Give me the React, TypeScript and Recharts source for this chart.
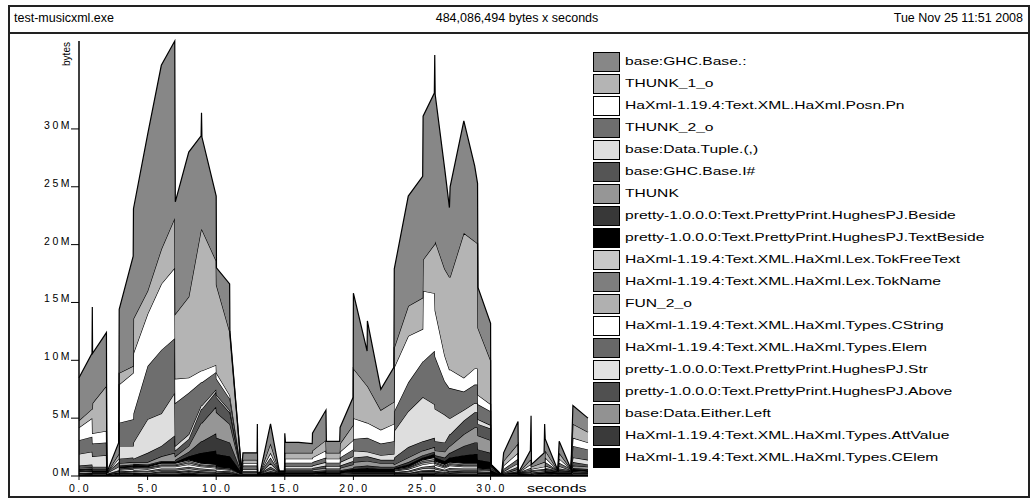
import React from "react";
import { AreaChart, Area, XAxis, YAxis } from "recharts";

// sample times (seconds)
const times = [
  0, 0.95, 0.97, 0.99, 2.0, 2.03, 2.9, 2.93, 3.95, 3.97,
  5.0, 6.0, 6.98, 7.02, 8.0, 8.9, 8.93, 8.96, 10.0, 10.02,
  10.98, 11.0, 11.85, 11.95, 12.98, 13.0, 13.02, 13.2, 13.96, 14.6,
  14.98, 15.0, 15.05, 16.0, 17.0, 17.02, 18.0, 18.03, 19.0, 19.03,
  19.98, 20.0, 21.0, 21.02, 22.0, 22.95, 22.98, 24.0, 25.05, 25.08,
  25.9, 25.93, 25.96, 26.66, 27.0, 27.05, 28.05, 28.84, 29.05, 29.08,
  30.0, 30.02, 30.8, 30.95, 32.0, 32.03, 32.9, 32.95, 32.98, 33.9,
  33.94, 33.98, 34.9, 35.0, 35.86, 36.0, 37.1,
];

// values in MB, one list per band
const ghcBaseCons = [
  3.7, 4.8, 8.8, 4.3, 4.6, 0, 1.0, 5.5, 9.5, 9.5,
  13.5, 15.9, 15.3, 9.7, 12.5, 8.1, 10.1, 8.0, 5.6, 1.5,
  4.1, 0.3, 0, 0.6, 0.6, 3.1, 0, 0, 1.7, 0,
  0, 1.7, 0.9, 0.9, 0.8, 1.5, 2.6, 1.0, 1.0, 1.4,
  2.4, 6.5, 3.0, 5.6, 1.8, 3.0, 6.8, 9.5, 10.5, 12.4,
  13.1, 16.4, 12.7, 8.6, 6.0, 7.8, 9.7, 6.5, 5.2, 3.5,
  3.2, 0, 0, 0.7, 1.9, 0, 0.8, 3.8, 0.2, 0.8,
  3.3, 1.0, 0, 1.0, 0, 1.6, 1.2,
];
const thunk1 = [
  0.6, 0.8, 0.8, 2.6, 3.9, 0, 0.4, 1.0, 0.6, 3.0,
  2.0, 3.0, 4.3, 5.6, 7.0, 12.2, 12.2, 12.2, 9.0, 7.6,
  5.5, 5.2, 0, 0.3, 0.3, 0.3, 0, 0, 0.8, 0,
  0, 0.5, 0.5, 0.5, 0.5, 0.6, 0.9, 0.5, 0.5, 0.7,
  1.3, 4.3, 3.2, 3.2, 1.7, 1.9, 1.7, 2.6, 2.7, 2.7,
  4.2, 4.2, 6.0, 7.5, 8.0, 8.0, 12.5, 11.0, 10.8, 5.8,
  3.8, 0, 0, 0.4, 0.8, 0, 0.4, 0.4, 0.2, 0.4,
  0.4, 0.6, 0, 0.5, 0, 1.2, 0.9,
];
const posnPn = [
  1.1, 1.6, 1.6, 0.9, 1.0, 0, 0.3, 3.3, 4.0, 5.2,
  4.5, 5.7, 6.1, 2.1, 1.3, 1.0, 1.0, 1.0, 0.6, 0.5,
  0.3, 0.3, 0, 0.2, 0.2, 0.2, 0, 0, 0.4, 0,
  0, 0.35, 0.35, 0.35, 0.35, 0.4, 0.6, 0.35, 0.35, 0.5,
  0.8, 1.8, 1.3, 1.3, 1.2, 1.5, 3.8, 4.0, 2.8, 6.1,
  5.0, 5.0, 4.0, 2.2, 1.6, 1.6, 1.2, 1.4, 1.4, 0.8,
  0.6, 0, 0, 0.3, 0.5, 0, 0.3, 0.3, 0.1, 0.2,
  0.2, 0.4, 0, 0.35, 0, 0.7, 0.6,
];
const thunk2 = [
  1.2, 1.3, 1.3, 1.1, 1.1, 0.05, 0.4, 2.0, 2.3, 2.5,
  4.6, 5.5, 4.7, 3.7, 3.6, 2.0, 2.0, 2.0, 1.5, 1.4,
  1.0, 1.0, 0, 0.3, 0.3, 0.3, 0, 0.05, 0.5, 0.05,
  0.05, 0.3, 0.3, 0.3, 0.3, 0.3, 0.4, 0.3, 0.3, 0.4,
  0.6, 1.0, 1.2, 1.2, 1.0, 1.1, 1.7, 2.5, 3.1, 3.1,
  4.6, 4.6, 4.5, 2.9, 2.6, 2.6, 1.6, 1.6, 1.6, 1.3,
  1.2, 0.1, 0, 0.2, 0.4, 0, 0.2, 0.2, 0.1, 0.1,
  0.1, 0.3, 0, 0.3, 0.1, 1.0, 0.9,
];
const tuple = [
  1.0, 1.1, 1.1, 0.9, 1.0, 0.05, 0.3, 1.1, 1.0, 1.4,
  2.9, 2.8, 3.7, 0.4, 0.4, 0.3, 0.3, 0.3, 0.2, 0.2,
  0.2, 0.2, 0, 0.2, 0.2, 0.2, 0, 0, 0.3, 0,
  0, 0.2, 0.2, 0.2, 0.2, 0.2, 0.3, 0.2, 0.2, 0.3,
  0.4, 0.6, 0.4, 0.4, 0.4, 0.5, 2.3, 3.1, 3.8, 3.8,
  2.9, 2.9, 2.8, 2.4, 1.4, 1.4, 0.9, 0.8, 0.8, 0.4,
  0.3, 0, 0, 0.1, 0.3, 0, 0.1, 0.1, 0.1, 0.1,
  0.1, 0.2, 0, 0.2, 0, 0.4, 0.4,
];
const intHash = [
  0.2, 0.25, 0.25, 0.2, 0.2, 0.05, 0.1, 0.4, 0.4, 0.3,
  0.8, 0.9, 1.5, 0.5, 0.6, 1.2, 1.2, 1.2, 1.3, 1.3,
  1.0, 1.0, 0.05, 0.1, 0.1, 0.1, 0, 0.05, 0.2, 0.05,
  0.05, 0.15, 0.15, 0.15, 0.15, 0.15, 0.2, 0.15, 0.15, 0.2,
  0.3, 0.4, 0.4, 0.4, 0.3, 0.3, 0.6, 0.9, 0.8, 0.8,
  0.8, 0.8, 0.8, 0.8, 1.0, 1.0, 1.2, 1.3, 1.3, 1.0,
  1.0, 0.1, 0, 0.1, 0.2, 0.05, 0.1, 0.1, 0.1, 0.1,
  0.1, 0.1, 0.1, 0.15, 0.1, 0.3, 0.2,
];
const thunk = [
  0.1, 0.1, 0.1, 0.1, 0.1, 0, 0.1, 0.2, 0.2, 0.15,
  0.2, 0.4, 0.7, 0.3, 0.5, 1.6, 1.6, 1.6, 2.3, 2.2,
  1.6, 1.6, 0, 0.1, 0.1, 0.1, 0, 0, 0.2, 0,
  0, 0.1, 0.1, 0.1, 0.1, 0.15, 0.2, 0.1, 0.1, 0.2,
  0.3, 0.4, 0.4, 0.4, 0.3, 0.3, 0.2, 0.4, 0.4, 0.4,
  0.4, 0.4, 0.4, 0.5, 0.6, 0.6, 1.0, 1.3, 1.3, 1.2,
  1.1, 0.1, 0, 0, 0.2, 0, 0.1, 0.1, 0, 0,
  0, 0.1, 0, 0.1, 0, 0.2, 0.2,
];
const beside = [
  0.05, 0.05, 0.05, 0.05, 0.05, 0, 0, 0.1, 0.1, 0.1,
  0.1, 0.1, 0.1, 0.2, 0.4, 1.0, 1.0, 1.0, 1.5, 1.4,
  1.2, 1.2, 0.05, 0, 0, 0, 0, 0, 0.1, 0.05,
  0.05, 0.1, 0.1, 0.1, 0.1, 0.1, 0.1, 0.1, 0.1, 0.1,
  0.1, 0.2, 0.2, 0.2, 0.2, 0.2, 0.1, 0.2, 0.2, 0.2,
  0.2, 0.2, 0.2, 0.3, 0.4, 0.4, 0.8, 1.0, 1.0, 0.9,
  0.8, 0.2, 0, 0, 0.1, 0, 0, 0, 0, 0,
  0, 0.1, 0.1, 0.1, 0.1, 0.1, 0.1,
];
const textBeside = [
  0.05, 0.05, 0.05, 0.05, 0.05, 0, 0, 0.1, 0.1, 0.1,
  0.1, 0.1, 0.1, 0.1, 0.3, 0.9, 0.9, 0.9, 1.2, 1.1,
  1.0, 1.0, 0.1, 0, 0, 0, 0.05, 0.05, 0.1, 0.1,
  0.1, 0.1, 0.1, 0.1, 0.1, 0.1, 0.1, 0.1, 0.1, 0.1,
  0.2, 0.2, 0.3, 0.3, 0.2, 0.2, 0.1, 0.2, 0.2, 0.2,
  0.3, 0.3, 0.3, 0.3, 0.4, 0.4, 0.7, 0.8, 0.8, 0.7,
  0.6, 0.3, 0.05, 0, 0.1, 0.1, 0, 0, 0, 0,
  0, 0.1, 0.1, 0.1, 0.1, 0.1, 0.1,
];
const tokFreeText = [
  0.05, 0.05, 0.05, 0.05, 0.05, 0, 0, 0.05, 0.05, 0.05,
  0.05, 0.1, 0.1, 0.1, 0.1, 0.1, 0.1, 0.1, 0.1, 0.05,
  0.05, 0.05, 0, 0, 0, 0, 0, 0, 0, 0,
  0, 0, 0, 0, 0, 0, 0, 0, 0, 0,
  0.05, 0.05, 0.05, 0.05, 0.05, 0.05, 0.05, 0.05, 0.1, 0.1,
  0.15, 0.15, 0.1, 0.1, 0.1, 0.1, 0.1, 0.1, 0.1, 0.05,
  0.05, 0, 0, 0, 0, 0, 0, 0, 0, 0,
  0, 0, 0, 0, 0, 0.05, 0.05,
];
const tokName = [
  0.05, 0.05, 0.05, 0, 0, 0, 0, 0.05, 0.05, 0.05,
  0.05, 0.1, 0.1, 0.1, 0.15, 0.1, 0.1, 0.1, 0.1, 0.05,
  0.05, 0.05, 0, 0, 0, 0, 0, 0, 0, 0,
  0, 0, 0, 0, 0, 0, 0, 0, 0, 0,
  0, 0, 0, 0, 0, 0, 0.05, 0.05, 0.15, 0.15,
  0.15, 0.15, 0.1, 0.1, 0.1, 0.1, 0.1, 0.1, 0.1, 0.05,
  0.05, 0, 0, 0, 0, 0, 0, 0, 0, 0,
  0, 0, 0, 0, 0, 0.05, 0,
];
const fun2 = [
  0.05, 0.05, 0.05, 0.05, 0.05, 0, 0.05, 0.1, 0.1, 0.1,
  0.1, 0.1, 0.1, 0.1, 0.15, 0.1, 0.1, 0.1, 0.1, 0.1,
  0.1, 0.1, 0, 0, 0, 0, 0, 0, 0, 0,
  0, 0, 0, 0, 0, 0, 0.05, 0, 0, 0.05,
  0.05, 0.05, 0.05, 0.05, 0.05, 0.05, 0.05, 0.1, 0.15, 0.15,
  0.15, 0.15, 0.15, 0.1, 0.1, 0.1, 0.1, 0.1, 0.1, 0.1,
  0.05, 0, 0, 0, 0, 0, 0, 0, 0, 0.05,
  0.05, 0.05, 0, 0, 0, 0.05, 0.05,
];
const cString = [
  0.1, 0.1, 0.1, 0.05, 0.05, 0.05, 0.05, 0.1, 0.15, 0.15,
  0.15, 0.15, 0.15, 0.15, 0.2, 0.15, 0.15, 0.15, 0.15, 0.15,
  0.1, 0.1, 0.05, 0.05, 0.05, 0.05, 0.05, 0.05, 0.05, 0.05,
  0.05, 0.05, 0.05, 0.05, 0.05, 0.05, 0.05, 0.05, 0.05, 0.05,
  0.05, 0.05, 0.05, 0.05, 0.05, 0.05, 0.1, 0.15, 0.2, 0.2,
  0.25, 0.25, 0.2, 0.15, 0.2, 0.2, 0.15, 0.15, 0.15, 0.1,
  0.1, 0.05, 0, 0.05, 0.05, 0.05, 0.05, 0.05, 0.05, 0.05,
  0.05, 0.05, 0.05, 0.05, 0.05, 0.1, 0.05,
];
const elem = [
  0.05, 0.05, 0.05, 0.05, 0.05, 0, 0.05, 0.1, 0.1, 0.1,
  0.1, 0.15, 0.15, 0.15, 0.15, 0.15, 0.15, 0.15, 0.1, 0.1,
  0.1, 0.1, 0.05, 0.05, 0.05, 0.05, 0, 0, 0.05, 0,
  0, 0.05, 0.05, 0.05, 0.05, 0.05, 0.05, 0.05, 0.05, 0.05,
  0.05, 0.05, 0.05, 0.05, 0.05, 0.05, 0.05, 0.1, 0.15, 0.15,
  0.2, 0.2, 0.15, 0.1, 0.15, 0.15, 0.15, 0.15, 0.15, 0.1,
  0.05, 0.05, 0, 0.05, 0.05, 0, 0.05, 0.05, 0.05, 0.05,
  0.05, 0.05, 0.05, 0.05, 0.05, 0.05, 0.05,
];
const str = [
  0.05, 0.05, 0.05, 0.05, 0.05, 0, 0.05, 0.05, 0.1, 0.1,
  0.1, 0.1, 0.1, 0.1, 0.15, 0.1, 0.1, 0.1, 0.1, 0.1,
  0.05, 0.05, 0, 0, 0, 0, 0, 0, 0, 0,
  0, 0, 0, 0, 0, 0, 0.05, 0, 0, 0.05,
  0.05, 0.05, 0.05, 0.05, 0.05, 0.05, 0.05, 0.1, 0.15, 0.15,
  0.15, 0.15, 0.15, 0.1, 0.1, 0.1, 0.1, 0.1, 0.1, 0.05,
  0.05, 0, 0, 0, 0, 0, 0, 0, 0, 0.05,
  0.05, 0.05, 0, 0, 0, 0.05, 0.05,
];
const above = [
  0.05, 0.05, 0.05, 0.05, 0.05, 0, 0, 0.05, 0.05, 0.05,
  0.05, 0.1, 0.1, 0.1, 0.1, 0.1, 0.1, 0.1, 0.1, 0.05,
  0.05, 0.05, 0, 0, 0, 0, 0, 0, 0, 0,
  0, 0, 0, 0, 0, 0, 0, 0, 0, 0,
  0.05, 0.05, 0.05, 0.05, 0.05, 0.05, 0.05, 0.05, 0.1, 0.1,
  0.15, 0.15, 0.1, 0.1, 0.1, 0.1, 0.1, 0.1, 0.1, 0.05,
  0.05, 0, 0, 0, 0, 0, 0, 0, 0, 0,
  0, 0, 0, 0, 0, 0.05, 0.05,
];
const eitherLeft = [
  0, 0.05, 0.05, 0, 0, 0, 0, 0.05, 0.05, 0.05,
  0.05, 0.1, 0.1, 0.1, 0.1, 0.1, 0.1, 0.1, 0.05, 0.05,
  0.05, 0.05, 0, 0, 0, 0, 0, 0, 0, 0,
  0, 0, 0, 0, 0, 0, 0, 0, 0, 0,
  0, 0, 0, 0, 0, 0, 0.05, 0.05, 0.1, 0.1,
  0.1, 0.1, 0.1, 0.05, 0.1, 0.1, 0.1, 0.1, 0.1, 0.05,
  0.05, 0, 0, 0, 0, 0, 0, 0, 0, 0,
  0, 0, 0, 0, 0, 0, 0,
];
const attValue = [
  0, 0, 0, 0, 0, 0, 0, 0.05, 0.05, 0.05,
  0.05, 0.05, 0.05, 0.05, 0.1, 0.05, 0.05, 0.05, 0.05, 0.05,
  0.05, 0.05, 0, 0, 0, 0, 0, 0, 0, 0,
  0, 0, 0, 0, 0, 0, 0, 0, 0, 0,
  0, 0, 0, 0, 0, 0, 0.05, 0.05, 0.1, 0.1,
  0.1, 0.1, 0.1, 0.05, 0.1, 0.1, 0.05, 0.05, 0.05, 0.05,
  0.05, 0, 0, 0, 0, 0, 0, 0, 0, 0,
  0, 0, 0, 0, 0, 0, 0,
];
const cElem = [
  0.1, 0.1, 0.1, 0.1, 0.1, 0.1, 0.1, 0.1, 0.1, 0.15,
  0.1, 0.15, 0.15, 0.15, 0.2, 0.15, 0.15, 0.15, 0.15, 0.1,
  0.1, 0.1, 0.1, 0.1, 0.1, 0.1, 0.1, 0.1, 0.1, 0.1,
  0.1, 0.1, 0.1, 0.1, 0.1, 0.1, 0.1, 0.1, 0.1, 0.1,
  0.1, 0.1, 0.1, 0.1, 0.1, 0.1, 0.1, 0.1, 0.2, 0.2,
  0.2, 0.2, 0.15, 0.15, 0.15, 0.15, 0.15, 0.15, 0.15, 0.1,
  0.1, 0.1, 0.05, 0.1, 0.1, 0.1, 0.1, 0.1, 0.1, 0.1,
  0.1, 0.1, 0.1, 0.1, 0.1, 0.1, 0.1,
];

const xTicks = [0, 5, 10, 15, 20, 25, 30];
const yTicks = [0, 5, 10, 15, 20, 25, 30];

// legend order = top band first
const bands = [
  { name: "base:GHC.Base.:", values: ghcBaseCons, fill: "#878787" },
  { name: "THUNK_1_o", values: thunk1, fill: "#b4b4b4" },
  { name: "HaXml-1.19.4:Text.XML.HaXml.Posn.Pn", values: posnPn, fill: "#ffffff" },
  { name: "THUNK_2_o", values: thunk2, fill: "#6e6e6e" },
  { name: "base:Data.Tuple.(,)", values: tuple, fill: "#dedede" },
  { name: "base:GHC.Base.I#", values: intHash, fill: "#555555" },
  { name: "THUNK", values: thunk, fill: "#969696" },
  { name: "pretty-1.0.0.0:Text.PrettyPrint.HughesPJ.Beside", values: beside, fill: "#383838" },
  { name: "pretty-1.0.0.0:Text.PrettyPrint.HughesPJ.TextBeside", values: textBeside, fill: "#000000" },
  { name: "HaXml-1.19.4:Text.XML.HaXml.Lex.TokFreeText", values: tokFreeText, fill: "#c8c8c8" },
  { name: "HaXml-1.19.4:Text.XML.HaXml.Lex.TokName", values: tokName, fill: "#7e7e7e" },
  { name: "FUN_2_o", values: fun2, fill: "#b0b0b0" },
  { name: "HaXml-1.19.4:Text.XML.HaXml.Types.CString", values: cString, fill: "#ffffff" },
  { name: "HaXml-1.19.4:Text.XML.HaXml.Types.Elem", values: elem, fill: "#686868" },
  { name: "pretty-1.0.0.0:Text.PrettyPrint.HughesPJ.Str", values: str, fill: "#e2e2e2" },
  { name: "pretty-1.0.0.0:Text.PrettyPrint.HughesPJ.Above", values: above, fill: "#505050" },
  { name: "base:Data.Either.Left", values: eitherLeft, fill: "#929292" },
  { name: "HaXml-1.19.4:Text.XML.HaXml.Types.AttValue", values: attValue, fill: "#3a3a3a" },
  { name: "HaXml-1.19.4:Text.XML.HaXml.Types.CElem", values: cElem, fill: "#000000" },
];

const rows = times.map((t, i) => {
  const row: Record<string, number> = { t };
  bands.forEach((b, k) => {
    row["b" + k] = b.values[i];
  });
  return row;
});

const font = '"Liberation Sans", Arial, sans-serif';

function YTick(props: any) {
  const { x, y, payload } = props;
  return (
    <text x={x + 1} y={y} textAnchor="end" fontSize={10.5} letterSpacing={2.5} fontFamily={font} fill="#000">
      {payload.value + "M"}
    </text>
  );
}

function XTick(props: any) {
  const { x, y, payload } = props;
  return (
    <text x={x + 1} y={y + 10} textAnchor="middle" fontSize={10.5} letterSpacing={2.5} fontFamily={font} fill="#000">
      {payload.value.toFixed(1)}
    </text>
  );
}

export default function App() {
  return (
    <div style={{ position: "absolute", left: 0, top: 0, width: 1031, height: 500, background: "#fff", fontFamily: font }}>
      {/* header box */}
      <div style={{ position: "absolute", left: 8, top: 5, width: 1018, height: 25, border: "2px solid #222" }} />
      <div style={{ position: "absolute", left: 8, top: 32, width: 1018, height: 464, border: "2px solid #222", borderTop: "none" }} />
      <div style={{ position: "absolute", left: 14, top: 11, fontSize: 12.5, whiteSpace: "nowrap" }}>test-musicxml.exe</div>
      <div style={{ position: "absolute", left: 417, width: 200, top: 11, fontSize: 12.5, textAlign: "center", whiteSpace: "nowrap" }}>
        484,086,494 bytes x seconds
      </div>
      <div style={{ position: "absolute", right: 8, top: 11, fontSize: 12.5, whiteSpace: "nowrap" }}>Tue Nov 25 11:51 2008</div>

      {/* y axis title */}
      <div
        style={{
          position: "absolute",
          left: 66,
          top: 54,
          fontSize: 10,
          transform: "translate(-50%, -50%) rotate(-90deg)",
          whiteSpace: "nowrap",
        }}
      >
        bytes
      </div>
      <div
        style={{
          position: "absolute",
          left: 527,
          top: 483,
          fontSize: 10,
          transform: "scaleX(1.6)",
          transformOrigin: "left top",
          whiteSpace: "nowrap",
        }}
      >
        seconds
      </div>

      <div style={{ position: "absolute", left: 0, top: 0 }}>
        <AreaChart width={1031} height={500} data={rows} margin={{ top: 41, right: 443, bottom: 4, left: 0 }}>
          <XAxis
            dataKey="t"
            type="number"
            domain={[0, 37.1]}
            ticks={xTicks}
            height={20}
            tickSize={4}
            tick={<XTick />}
            axisLine={{ stroke: "#000", strokeWidth: 1.5 }}
            tickLine={{ stroke: "#000" }}
            interval={0}
          />
          <YAxis
            type="number"
            domain={[0, 37.6]}
            ticks={yTicks}
            width={79}
            tickSize={8}
            tickMargin={0}
            tick={<YTick />}
            axisLine={{ stroke: "#000", strokeWidth: 1.5 }}
            tickLine={{ stroke: "#000" }}
            interval={0}
          />
          {bands
            .map((b, k) => ({ ...b, k }))
            .reverse()
            .map((b) => (
              <Area
                key={b.k}
                type="linear"
                dataKey={"b" + b.k}
                stackId="heap"
                stroke="#000"
                strokeWidth={1.2}
                fill={b.fill}
                fillOpacity={1}
                isAnimationActive={false}
                dot={false}
                activeDot={false}
              />
            ))}
        </AreaChart>
      </div>

      {/* legend */}
      <div style={{ position: "absolute", left: 593, top: 52 }}>
        {bands.map((b) => (
          <div key={b.name} style={{ position: "relative", height: 22 }}>
            <div
              style={{
                position: "absolute",
                left: 0,
                top: 0,
                width: 25,
                height: 18,
                background: b.fill,
                border: "1px solid #000",
              }}
            />
            <div
              style={{
                position: "absolute",
                left: 32,
                top: 3,
                fontSize: 11,
                whiteSpace: "nowrap",
                transform: "scaleX(1.42)",
                transformOrigin: "left top",
              }}
            >
              {b.name}
            </div>
          </div>
        ))}
      </div>
    </div>
  );
}
